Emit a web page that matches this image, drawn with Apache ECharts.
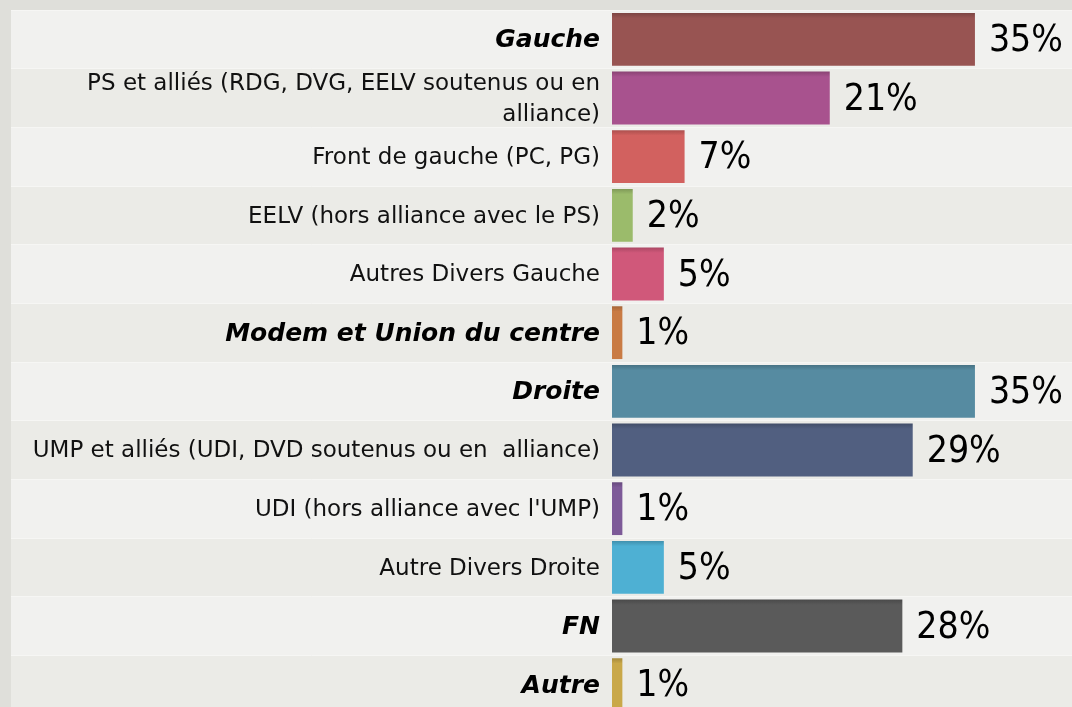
<!DOCTYPE html>
<html>
<head>
  <meta charset="utf-8">
  <script src="https://cdn.jsdelivr.net/npm/echarts@6/dist/echarts.min.js"></script>
  <title>Gauche / Droite</title>
  <style type="text/css">
    html,
    body {
      margin: 0;
      background-color: #dfdfda;
    }

    #main {
      width: 1072px;
      height: 707px;
    }
  </style>
</head>
<body>
  <div id="main"></div>
  <script type="text/javascript">
    var categories = [
      'Gauche',
      'PS et alliés (RDG, DVG, EELV soutenus ou en\nalliance)',
      'Front de gauche (PC, PG)',
      'EELV (hors alliance avec le PS)',
      'Autres Divers Gauche',
      'Modem et Union du centre',
      'Droite',
      'UMP et alliés (UDI, DVD soutenus ou en  alliance)',
      "UDI (hors alliance avec l'UMP)",
      'Autre Divers Droite',
      'FN',
      'Autre'
    ];
    var values = [35, 21, 7, 2, 5, 1, 35, 29, 1, 5, 28, 1];
    var groups = ['Gauche', 'Modem et Union du centre', 'Droite', 'FN', 'Autre'];
    var colors = ['#985452', '#a8528e', '#d2615f', '#9bbb6b', '#d0587a', '#c97b44',
      '#568ba1', '#515f80', '#7d5a98', '#4eb0d3', '#5a5a5a', '#c9a849'];

    // assombrir une couleur (haut de la barre)
    function darken(c, k) {
      var a = echarts.color.parse(c);
      return 'rgb(' + Math.round(a[0] * k) + ',' + Math.round(a[1] * k) + ',' + Math.round(a[2] * k) + ')';
    }

    function shade(c) {
      return new echarts.graphic.LinearGradient(0, 0, 0, 1, [
        { offset: 0, color: darken(c, 0.82) },
        { offset: 0.1, color: c },
        { offset: 1, color: c }
      ]);
    }

    var barData = values.map(function (v, i) {
      return { value: v, itemStyle: { color: shade(colors[i]) } };
    });

    var stripes = {
      show: true,
      areaStyle: { color: ['#f1f1ef', '#ebebe7'] }
    };
    var rowLine = {
      show: true,
      lineStyle: { color: '#f6f6f4', width: 1 }
    };

    var myChart = echarts.init(document.getElementById('main'));

    var option = {
      backgroundColor: '#dfdfda',
      animation: false,
      grid: [
        { left: 11, width: 601, top: 10, height: 704, outerBoundsMode: 'none' },
        { left: 612, right: 0, top: 10, height: 704, outerBoundsMode: 'none' }
      ],
      xAxis: [
        { gridIndex: 0, type: 'value', min: 0, max: 1, show: false },
        { gridIndex: 1, type: 'value', min: 0, max: 44.36, show: false }
      ],
      yAxis: [
        {
          gridIndex: 0,
          type: 'category',
          inverse: true,
          data: categories,
          axisLine: { show: false },
          axisTick: { show: false },
          axisLabel: { show: false },
          splitLine: rowLine,
          splitArea: stripes
        },
        {
          gridIndex: 1,
          type: 'category',
          inverse: true,
          data: categories,
          axisLine: { show: false },
          axisTick: { show: false },
          splitLine: rowLine,
          splitArea: stripes,
          axisLabel: {
            interval: 0,
            margin: 12,
            color: '#111',
            fontFamily: 'DejaVu Sans',
            fontSize: 23,
            lineHeight: 31,
            padding: [3, 0, 0, 0],
            align: 'right',
            formatter: function (v) {
              return groups.indexOf(v) >= 0 ? '{g|' + v + '}' : v;
            },
            rich: {
              g: {
                fontFamily: 'DejaVu Sans',
                fontSize: 25,
                fontWeight: 'bold',
                fontStyle: 'italic',
                color: '#000'
              }
            }
          }
        }
      ],
      series: [{
        type: 'bar',
        xAxisIndex: 1,
        yAxisIndex: 1,
        data: barData,
        barCategoryGap: '10%',
        label: {
          show: true,
          position: 'right',
          distance: 14,
          offset: [0, 2],
          formatter: '{c}%',
          color: '#000',
          fontFamily: 'DejaVu Sans Condensed',
          fontSize: 37
        }
      }]
    };

    myChart.setOption(option);
  </script>
</body>
</html>
